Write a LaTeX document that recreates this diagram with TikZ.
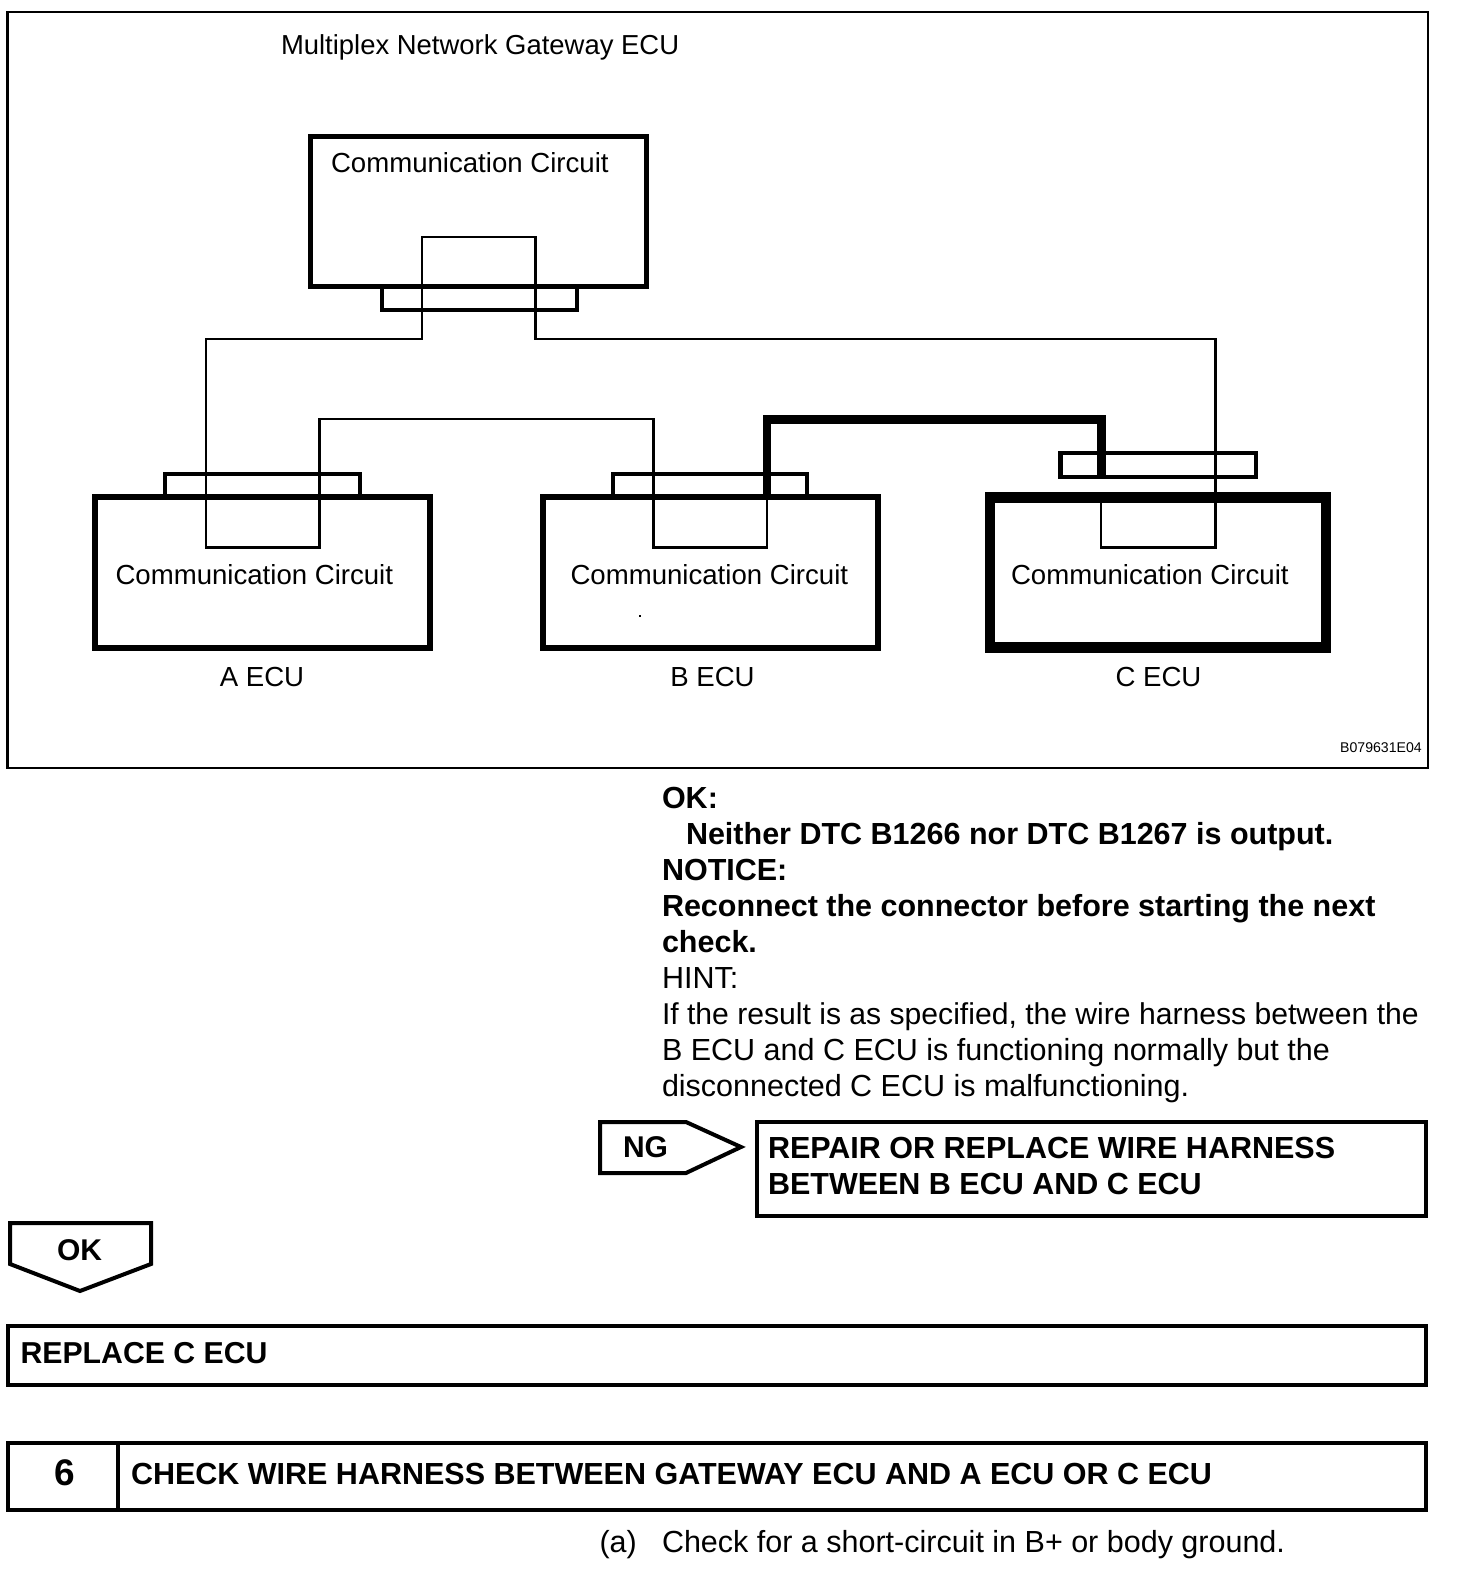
\documentclass[tikz,border=0pt]{standalone}
\usepackage{fontspec}
\setmainfont{Liberation Sans}
\newcommand{\fsz}[1]{\fontsize{#1}{#1}\selectfont}
\tikzset{
  x=1pt,y=-1pt,
  ebox/.style={draw=black,fill=white,rectangle,inner sep=0pt,outer sep=0pt,line width=#1},
  lab/.style={inner sep=0pt,outer sep=0pt,anchor=base west,font=\fsz{27.6}},
  labc/.style={inner sep=0pt,outer sep=0pt,anchor=base,font=\fsz{27.6}},
  body/.style={inner sep=0pt,outer sep=0pt,anchor=base west,font=\fsz{30.5}},
  bodyb/.style={inner sep=0pt,outer sep=0pt,anchor=base west,font=\fsz{30.5}\bfseries},
  wire/.style={draw=black,line width=2.85pt,line join=miter},
  hotwire/.style={draw=black,line join=miter},
  flag/.style={draw=black,fill=white,line width=4pt,line join=miter},
}
\begin{document}
\begin{tikzpicture}
\useasboundingbox (0,0) rectangle (1456,1576);
\fill[white] (0,0) rectangle (1456,1576);
% frame
\node[ebox=2.7pt,minimum width=1420.5pt,minimum height=756pt] (frame) at (717.75,390) {};
\node[lab,font=\fsz{27.45}] (title) at (281,55) {Multiplex Network Gateway ECU};
% connectors behind boxes
\node[ebox=4pt,minimum width=195pt,minimum height=24pt] (gwconn) at (479.5,298) {};
\node[ebox=4pt,minimum width=195pt,minimum height=26pt] (aconn) at (262.5,487) {};
\node[ebox=4pt,minimum width=194pt,minimum height=26pt] (bconn) at (710,487) {};
\node[ebox=4.5pt,minimum width=195.5pt,minimum height=24pt] (cconn) at (1158,465) {};
% ECU boxes
\node[ebox=5pt,minimum width=336pt,minimum height=150pt] (gw) at (478.5,211.5) {};
\node[ebox=5.5pt,minimum width=335pt,minimum height=151pt] (aecu) at (262.5,572.5) {};
\node[ebox=5.5pt,minimum width=335pt,minimum height=151pt] (becu) at (710.5,572.5) {};
\node[ebox=10.5pt,minimum width=336pt,minimum height=150pt] (cecu) at (1158,572.5) {};
% wire way-points
\coordinate (a1) at (206,547.5);
\coordinate (a2) at (319.5,547.5);
\coordinate (b1) at (653.7,547.5);
\coordinate (b2) at (767,547.5);
\coordinate (c1) at (1101,547.5);
\coordinate (c2) at (1215.3,547.5);
\coordinate (g1) at (422,237);
\coordinate (g2) at (535.5,237);
\coordinate (bus) at (0,339);
\coordinate (ab) at (0,419);
\coordinate (hotb) at (767,497);
\coordinate (hott) at (1101.5,419.5);
\coordinate (hote) at (1101.5,478);
\coordinate (cin) at (1101,500);
% wires
\draw[wire] (cin) -- (c1) -- (c2) -- (c2 |- bus) -- (g2 |- bus) -- (g2) -- (g1) -- (g1 |- bus) -- (a1 |- bus) -- (a1) -- (a2) -- (a2 |- ab) -- (b1 |- ab) -- (b1) -- (b2) -- (hotb);
\draw[hotwire,line width=9pt] ([xshift=-3.75pt]hotb |- hott) -- ([xshift=4.5pt]hott);
\draw[hotwire,line width=7.5pt] (hotb) -- (hotb |- hott);
\draw[hotwire,line width=9pt] (hott) -- (hote);
% labels
\node[lab] (gwt) at (331,172) {Communication Circuit};
\node[lab] (at) at (115.5,584) {Communication Circuit};
\node[lab] (bt) at (570.5,584) {Communication Circuit};
\node[lab] (ct) at (1011,584) {Communication Circuit};
\node[labc] (al) at (262,686) {A ECU};
\node[labc] (bl) at (712.5,686) {B ECU};
\node[labc] (cl) at (1158.5,686) {C ECU};
\fill (639,615) rectangle (641,617);
\node[inner sep=0pt,anchor=base west,font=\fsz{14.1}] (code) at (1340,752) {B079631E04};
% text
\node[bodyb] (t1) at (662,808.5) {OK:};
\node[bodyb] (t2) at (686,844.5) {Neither DTC B1266 nor DTC B1267 is output.};
\node[bodyb] (t3) at (662,880.5) {NOTICE:};
\node[bodyb] (t4) at (662,916.5) {Reconnect the connector before starting the next};
\node[bodyb] (t5) at (662,952.5) {check.};
\node[body] (t6) at (662,988.5) {HINT:};
\node[body,font=\fsz{30.12}] (t7) at (662,1024.5) {If the result is as specified, the wire harness between the};
\node[body] (t8) at (662,1060.5) {B ECU and C ECU is functioning normally but the};
\node[body] (t9) at (662,1096.5) {disconnected C ECU is malfunctioning.};
% NG
\draw[flag] (600,1122) -- (686,1122) -- (741,1147) -- (686,1173) -- (600,1173) -- cycle;
\node[bodyb,font=\fsz{30}\bfseries] (ng) at (623,1157) {NG};
\node[ebox=4pt,minimum width=669pt,minimum height=93.5pt] (repair) at (1091.5,1168.75) {};
\node[bodyb] (r1) at (768,1158) {REPAIR OR REPLACE WIRE HARNESS};
\node[bodyb] (r2) at (768,1194) {BETWEEN B ECU AND C ECU};
% OK
\draw[flag] (10,1223) -- (151,1223) -- (151,1264) -- (80,1291) -- (10,1264) -- cycle;
\node[bodyb,font=\fsz{30}\bfseries] (ok) at (57,1260) {OK};
\node[ebox=4.5pt,minimum width=1418pt,minimum height=59pt] (replace) at (717,1355.5) {};
\node[bodyb,font=\fsz{30.25}\bfseries] (rt) at (20.5,1363) {REPLACE C ECU};
% step 6
\node[ebox=4pt,minimum width=110pt,minimum height=67pt] (num) at (63,1476.5) {};
\node[ebox=4pt,minimum width=1308pt,minimum height=67pt] (stept) at (772,1476.5) {};
\node[inner sep=0pt,anchor=base,font=\fsz{37}\bfseries] (six) at (65,1485) {6};
\node[bodyb] (st) at (131,1484) {CHECK WIRE HARNESS BETWEEN GATEWAY ECU AND A ECU OR C ECU};
\node[body] (pa) at (599.5,1552) {(a)};
\node[body] (pb) at (662,1552) {Check for a short-circuit in B+ or body ground.};
\end{tikzpicture}
\end{document}
